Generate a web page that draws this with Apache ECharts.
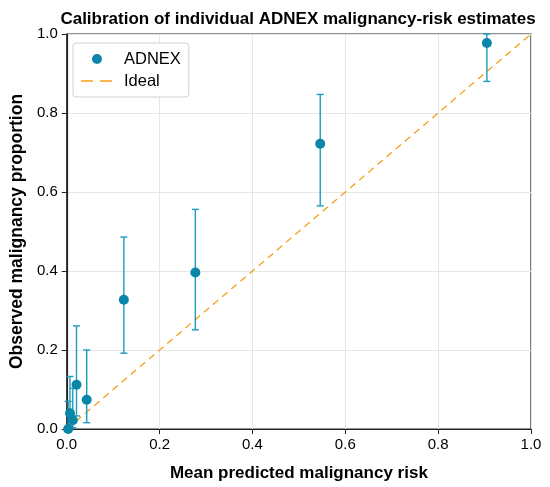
<!DOCTYPE html>
<html>
<head>
<meta charset="utf-8">
<script src="https://cdn.jsdelivr.net/npm/echarts@6/dist/echarts.min.js"></script>
<style>
html,body{margin:0;padding:0;background:#fff;}
#main{width:550px;height:487px;}
</style>
</head>
<body>
<div id="main"></div>
<script>
// Data
const predicted = [0.003, 0.007, 0.013, 0.021, 0.043, 0.123, 0.277, 0.546, 0.905];
const observed  = [0.000, 0.040, 0.022, 0.112, 0.074, 0.327, 0.396, 0.722, 0.977];
const ciLow     = [0.000, 0.005, 0.003, 0.033, 0.016, 0.192, 0.251, 0.565, 0.880];
const ciHigh    = [0.070, 0.133, 0.103, 0.261, 0.200, 0.486, 0.556, 0.847, 1.000];
const idealX = [0, 1];
const idealY = [0, 1];
const axisTicks = [0, 0.2, 0.4, 0.6, 0.8, 1.0];

const FONT = 'Liberation Sans, Arial, Helvetica, sans-serif';
const pointColor = '#0a86a8';
const barColor = '#1e9bbd';
const idealColor = '#f5a01a';

// legend icons (39 x 11 box)
const BOX = ' M0,0h0.01v0.01h-0.01z M39,11h0.01v0.01h-0.01z';
const circleIcon = 'path://M12,5.5 a5,5 0 1,0 10,0 a5,5 0 1,0 -10,0 z' + BOX;
const dashIcon = 'path://M1,4.8h12v1.4h-12z M20,4.8h12v1.4h-12z' + BOX;

const chart = echarts.init(document.getElementById('main'), null, {renderer: 'canvas'});

const axisCommon = {
  type: 'value',
  min: axisTicks[0],
  max: axisTicks[axisTicks.length - 1],
  interval: 0.2,
  axisLine: {show: true, onZero: false, lineStyle: {color: '#222', width: 1.2}},
  axisTick: {show: true, inside: false, length: 5, lineStyle: {color: '#222'}},
  axisLabel: {color: '#000', fontSize: 15, fontFamily: FONT, formatter: v => v.toFixed(1)},
  splitLine: {show: true, lineStyle: {color: '#e6e6e6', width: 1}},
  nameLocation: 'middle',
  nameTextStyle: {color: '#000', fontSize: 17, fontWeight: 'bold', fontFamily: FONT}
};

const option = {
  backgroundColor: '#fff',
  animation: false,
  title: {
    text: 'Calibration of individual ADNEX malignancy-risk estimates',
    left: 293, textAlign: 'center', top: 6,
    textStyle: {color: '#000', fontSize: 17, fontWeight: 'bold', fontFamily: FONT}
  },
  grid: {left: 66, right: 19, top: 34, bottom: 54, show: true, borderColor: '#222', borderWidth: 1.2, backgroundColor: 'transparent'},
  legend: {
    orient: 'vertical', left: 73, top: 43,
    data: [{name: 'ADNEX', icon: circleIcon}, {name: 'Ideal', icon: dashIcon}],
    backgroundColor: '#fff', borderColor: '#d0d0d0', borderWidth: 1, borderRadius: 3,
    padding: [7, 8, 7, 7], itemGap: 4, itemWidth: 39, itemHeight: 11,
    textStyle: {color: '#000', fontSize: 16.5, fontFamily: FONT, lineHeight: 18}
  },
  xAxis: Object.assign({}, axisCommon, {
    name: 'Mean predicted malignancy risk', nameGap: 36,
    axisLabel: Object.assign({}, axisCommon.axisLabel, {margin: 8})
  }),
  yAxis: Object.assign({}, axisCommon, {
    name: 'Observed malignancy proportion', nameGap: 40,
    nameTextStyle: Object.assign({}, axisCommon.nameTextStyle, {fontSize: 17.5}),
    axisLabel: Object.assign({}, axisCommon.axisLabel, {margin: 9})
  }),
  series: [
    {
      name: 'Ideal', type: 'line', symbol: 'none',
      data: idealX.map((x, i) => [x, idealY[i]]),
      lineStyle: {color: idealColor, width: 1.3, type: [7, 5]},
      itemStyle: {color: idealColor}, z: 2
    },
    {
      name: 'errorbars', type: 'custom',
      data: predicted.map((x, i) => [x, ciLow[i], ciHigh[i]]),
      renderItem: function (params, api) {
        const x = api.value(0);
        const lo = api.coord([x, api.value(1)]);
        const hi = api.coord([x, api.value(2)]);
        const hw = 3.5;
        const st = {stroke: barColor, lineWidth: 1.4};
        return {
          type: 'group',
          children: [
            {type: 'line', shape: {x1: lo[0], y1: lo[1], x2: hi[0], y2: hi[1]}, style: st},
            {type: 'line', shape: {x1: lo[0] - hw, y1: lo[1], x2: lo[0] + hw, y2: lo[1]}, style: st},
            {type: 'line', shape: {x1: hi[0] - hw, y1: hi[1], x2: hi[0] + hw, y2: hi[1]}, style: st}
          ]
        };
      },
      encode: {x: 0, y: [1, 2]},
      z: 3, silent: true
    },
    {
      name: 'ADNEX', type: 'scatter', symbol: 'circle', symbolSize: 10,
      data: predicted.map((x, i) => [x, observed[i]]),
      itemStyle: {color: pointColor, opacity: 1}, z: 4
    }
  ]
};
chart.setOption(option);
</script>
</body>
</html>
